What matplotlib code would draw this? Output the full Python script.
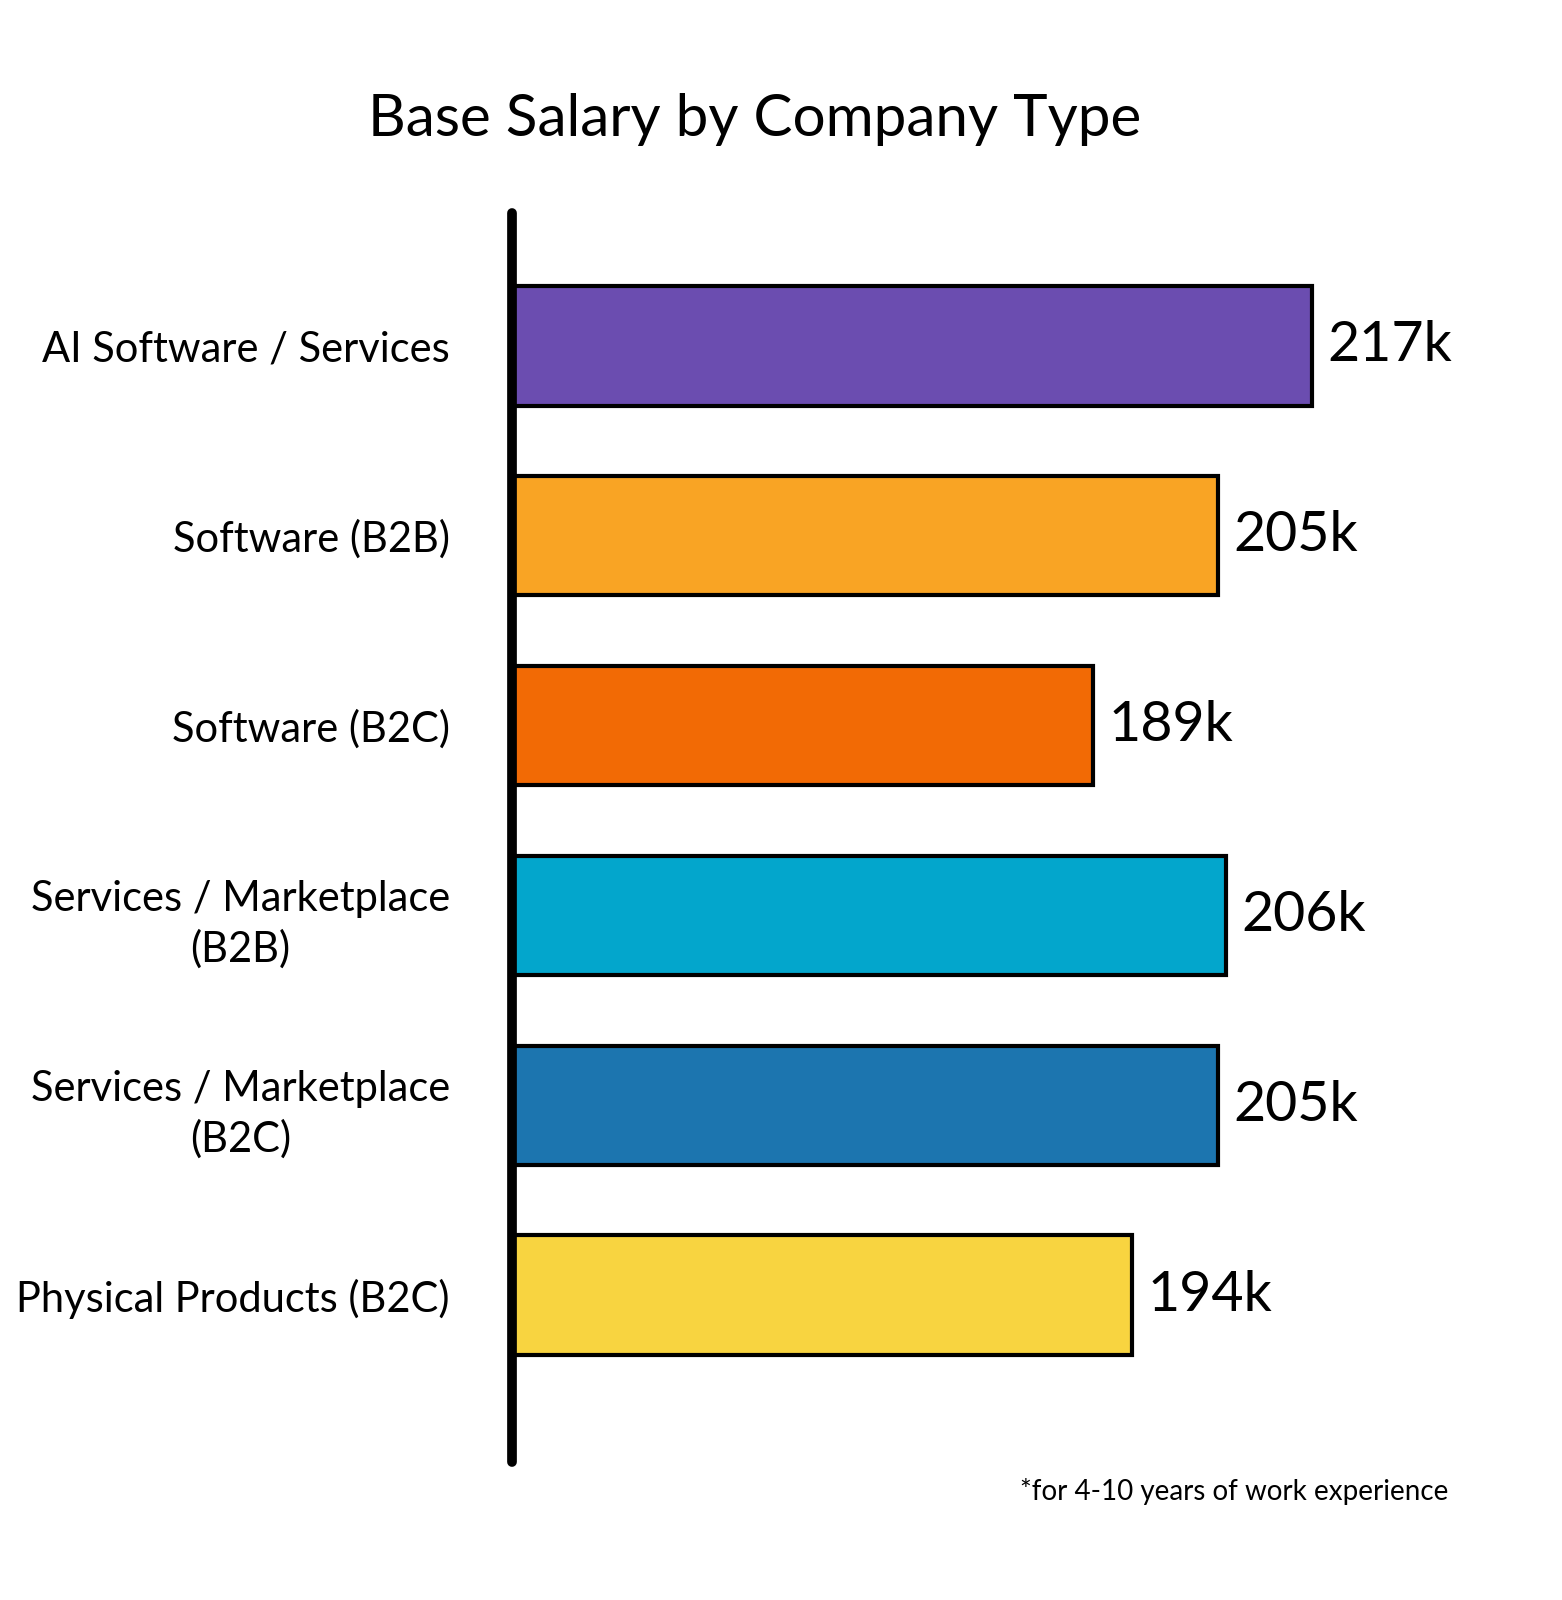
import matplotlib
matplotlib.use("Agg")
import matplotlib.pyplot as plt

plt.rcParams['font.family'] = ['Lato', 'DejaVu Sans']

# data
categories = ['AI Software / Services', 'Software (B2B)', 'Software (B2C)',
              'Services / Marketplace\n(B2B)', 'Services / Marketplace\n(B2C)',
              'Physical Products (B2C)']
salary_k = [217, 205, 189, 206, 205, 194]
value_labels = ['217k', '205k', '189k', '206k', '205k', '194k']
colors = ['#6B4DB0', '#F9A424', '#F26A05', '#03A6CC', '#1C75AF', '#F8D440']

x0 = 115  # the hand-drawn axis doesn't start at zero

fig = plt.figure(figsize=(15.62, 16), dpi=100)
ax = fig.add_axes([0.328, 0.086, 0.6325, 0.781])

y = list(range(len(categories)))
ax.barh(y, [v - x0 for v in salary_k], left=x0, height=0.63,
        color=colors, edgecolor='black', linewidth=3)

for yi, v, lab in zip(y, salary_k, value_labels):
    ax.text(v + 2, yi, lab, va='center', ha='left', fontsize=40)

ax.set_xlim(x0, 241)
ax.set_ylim(5.88, -0.7)
ax.set_yticks(y)
labels = ax.set_yticklabels(categories, fontsize=30, linespacing=1.35)
for lab in labels:
    lab.set_multialignment('center')
ax.tick_params(axis='y', length=0, pad=45)
ax.set_xticks([])

for s in ['top', 'right', 'bottom']:
    ax.spines[s].set_visible(False)
ax.spines['left'].set_linewidth(7)
ax.spines['left'].set_capstyle('round')

fig.text(0.483, 0.925, 'Base Salary by Company Type', ha='center', va='center',
         fontsize=42)
fig.text(0.927, 0.068, '*for 4-10 years of work experience', ha='right',
         va='center', fontsize=20)

fig.savefig('out.png', dpi=100, facecolor='white')
